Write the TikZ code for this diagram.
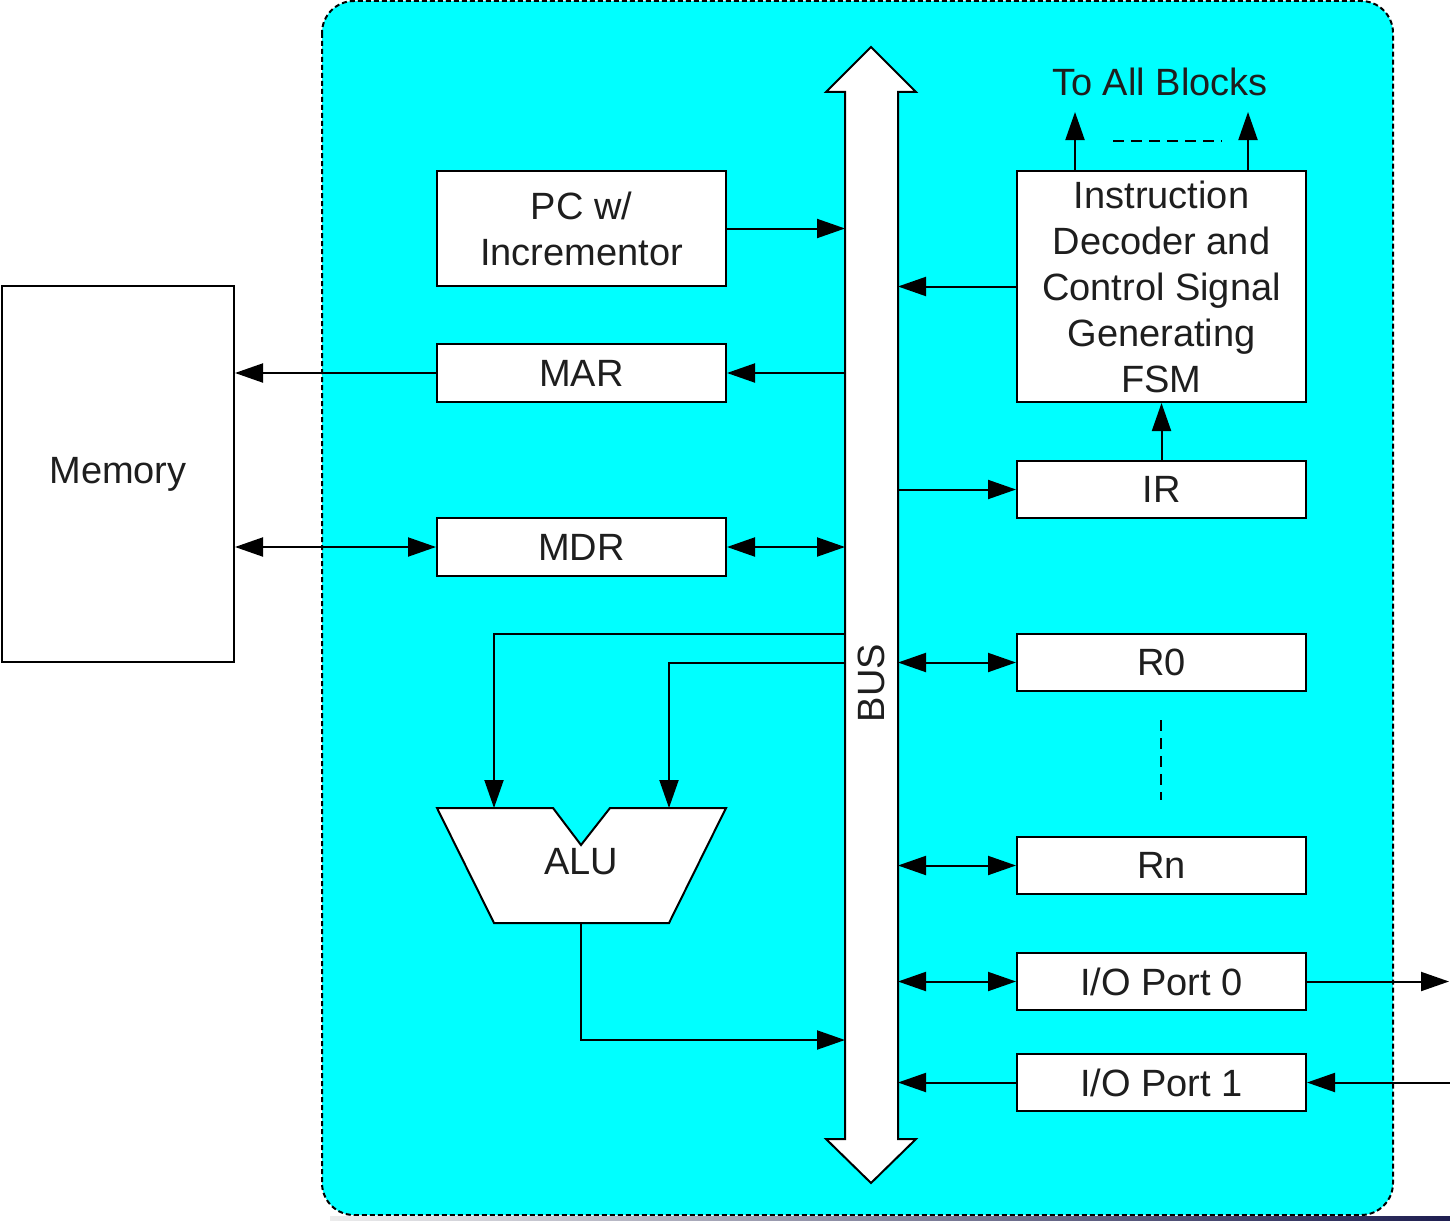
\documentclass[tikz,border=0pt]{standalone}
\usepackage{fontspec}
\setmainfont{Liberation Sans}
\usetikzlibrary{arrows.meta,calc}
\definecolor{bgcyan}{RGB}{0,255,255}
\definecolor{txt}{RGB}{30,30,30}
\begin{document}
\begin{tikzpicture}[x=1pt,y=-1pt,
  font=\fontsize{38}{46}\selectfont,
  box/.style={draw, line width=2pt, fill=white, text=txt, minimum width=289pt, minimum height=57pt, inner sep=0pt, align=center},
  conn/.style={line width=2pt, -{Triangle[length=28pt,width=19pt]}},
  bconn/.style={line width=2pt, {Triangle[length=28pt,width=19pt]}-{Triangle[length=28pt,width=19pt]}},
  dline/.style={line width=2.5pt, dash pattern=on 11pt off 7pt}]
\useasboundingbox (0,0) rectangle (1450,1220);
% background
\draw[line width=2pt, dash pattern=on 5pt off 3pt, fill=bgcyan, rounded corners=32pt] (322,1) rectangle (1393,1215);
\shade[left color=white!85!gray, right color={rgb,255:red,30;green,30;blue,80}] (330,1216) rectangle (1450,1220);
% memory
\node[box, minimum width=232pt, minimum height=376pt] (mem) at (118,474) {Memory};
% left blocks
\node[box, minimum height=115pt] (pc) at (581.5,228.5) {\raisebox{3pt}{\parbox{280pt}{\centering PC w/\\Incrementor}}};
\node[box, minimum height=58pt] (mar) at (581.5,373) {MAR};
\node[box, minimum height=58pt] (mdr) at (581.5,547) {MDR};
% right blocks
\node[box, minimum height=231pt] (dec) at (1161.5,286.5) {\raisebox{3pt}{\parbox{285pt}{\centering Instruction\\Decoder and\\Control Signal\\Generating\\FSM}}};
\node[box] (ir) at (1161.5,489.5) {IR};
\node[box] (r0) at (1161.5,662.5) {R0};
\node[box] (rn) at (1161.5,865.5) {Rn};
\node[box] (io0) at (1161.5,981.5) {I/O Port 0};
\node[box] (io1) at (1161.5,1082.5) {I/O Port 1};
% bus
\draw[line width=2pt, fill=white, line join=miter] (845,92) -- (826,92) -- (871,47) -- (916,92) -- (898,92) -- (898,1139) -- (916,1139) -- (871,1183) -- (826,1139) -- (845,1139) -- cycle;
\coordinate (busL) at (845,600);
\coordinate (busR) at (898,600);
\node[rotate=90, text=txt] (buslbl) at (871,683) {BUS};
% ALU
\draw[line width=2pt, fill=white, line join=miter] (437,808) -- (553,808) -- (581,845) -- (610,808) -- (726,808) -- (669,923) -- (494,923) -- cycle;
\node[text=txt] (alu) at (581,862) {ALU};
\coordinate (alul) at (494,808);
\coordinate (alur) at (669,808);
\coordinate (aluo) at (581,923);
\coordinate (alulb) at (494,634);
\coordinate (alurb) at (669,663);
\coordinate (aluob) at (581,1040);
% connectors
\draw[conn] (pc.east) -- (pc.east -| busL);
\draw[conn] (dec.west) -- (dec.west -| busR);
\draw[conn] (mar.east -| busL) -- (mar.east);
\draw[conn] (mar.west) -- (mar.west -| mem.east);
\draw[bconn] (mdr.west -| mem.east) -- (mdr.west);
\draw[bconn] (mdr.east) -- (mdr.east -| busL);
\draw[conn] (ir.west -| busR) -- (ir.west);
\draw[conn] (ir.north) -- (dec.south);
\draw[bconn] (r0.west -| busR) -- (r0.west);
\draw[bconn] (rn.west -| busR) -- (rn.west);
\draw[bconn] (io0.west -| busR) -- (io0.west);
\draw[conn] (io1.west) -- (io1.west -| busR);
\coordinate (out0) at (1449,981.5);
\coordinate (in1) at (1450,1082.5);
\draw[conn] (io0.east) -- (out0);
\draw[conn] (in1) -- (io1.east);
\draw[conn] (alulb -| busL) -- (alulb) -- (alul);
\draw[conn] (alurb -| busL) -- (alurb) -- (alur);
\draw[conn] (aluo) -- (aluob) -- (aluob -| busL);
% to all blocks
\coordinate (ta) at (1075,112);
\coordinate (tb) at (1248,112);
\draw[conn] (dec.north -| ta) -- (ta);
\draw[conn] (dec.north -| tb) -- (tb);
\draw[dline] (1113,141) -- (1222,141);
\node[text=txt] (toall) at (1160,82) {To All Blocks};
% register dots
\draw[dline] (1161,720) -- (1161,800);
\end{tikzpicture}
\end{document}
